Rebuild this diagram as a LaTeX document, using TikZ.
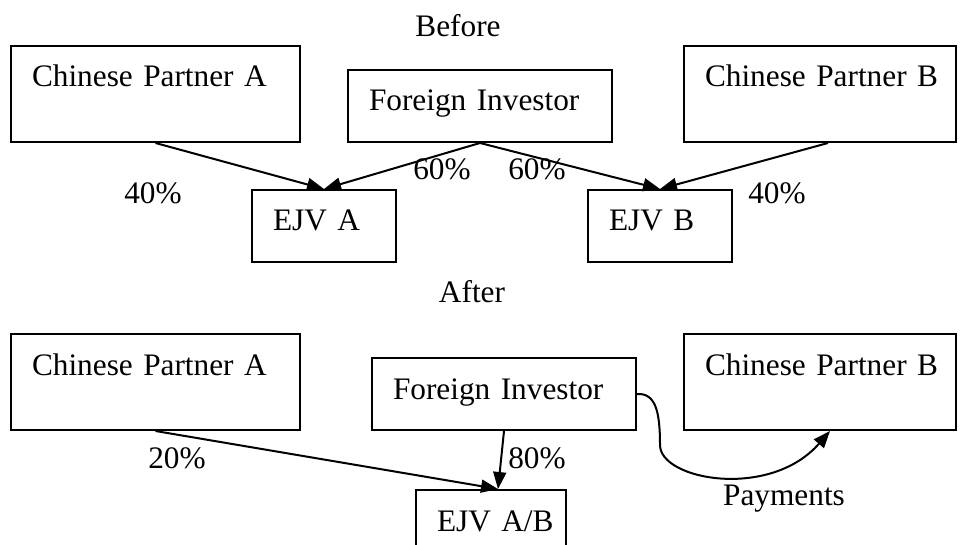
\documentclass[tikz,border=0pt]{standalone}
\usepackage{fontspec}
\setmainfont{Liberation Serif}
\usetikzlibrary{arrows.meta}

\begin{document}
\begin{tikzpicture}[x=1pt, y=-1pt,
    every node/.style={font=\fontsize{31.3}{37}\selectfont},
    party/.style={draw, line width=2pt, anchor=north west, inner xsep=21pt, inner ysep=0pt,
      align=left, text height=41pt, text depth=55pt, text width=247pt},
    inv/.style={party, text depth=31pt, text width=222pt},
    ejv/.style={party, text depth=31pt, text width=102pt},
    arr/.style={-{Triangle[length=17pt, width=13pt]}, line width=2pt}]
    \useasboundingbox (0,0) rectangle (960,545);
    % before
    \node[anchor=base] (before) at (458,37) {Before};
    \node[party] (cpaT) at (10,45) {Chinese Partner A};
    \node[inv] (fiT) at (347,69) {Foreign Investor};
    \node[party, text width=230pt] (cpbT) at (683,45) {\mbox{Chinese Partner B}};
    \node[ejv] (ejvA) at (251,189) {EJV A};
    \node[ejv] (ejvB) at (587,189) {EJV B};
    \draw[arr] (cpaT.south) -- (ejvA.north);
    \draw[arr] (fiT.south) -- (ejvA.north);
    \draw[arr] (fiT.south) -- (ejvB.north);
    \draw[arr] ([xshift=8pt]cpbT.south) -- (ejvB.north);
    \node[anchor=base] (pctA) at (153,204) {40\%};
    \node[anchor=base] (pctFA) at (442,180) {60\%};
    \node[anchor=base] (pctFB) at (537,180) {60\%};
    \node[anchor=base] (pctB) at (777,204) {40\%};
    % after
    \node[anchor=base] (after) at (472,302) {After};
    \node[party] (cpaB) at (10,333) {Chinese Partner A};
    \node[inv] (fiB) at (371,357) {Foreign Investor};
    \node[party, text width=230pt] (cpbB) at (683,333) {\mbox{Chinese Partner B}};
    \node[ejv, text width=108pt] (ejvAB) at (415,489) {\mbox{EJV A/B}};
    \coordinate (tipAB) at ([xshift=7pt]ejvAB.north);
    \coordinate (tipPay) at ([xshift=10pt]cpbB.south);
    \draw[arr] (cpaB.south) -- (tipAB);
    \draw[arr] (fiB.south) -- (tipAB);
    \draw[arr] (fiB.east) .. controls (655,393) and (660,410) .. (660,445)
      .. controls (660,480) and (770,500) .. (tipPay);
    \node[anchor=base] (pctAB) at (177,468) {20\%};
    \node[anchor=base] (pctF) at (537,468) {80\%};
    \node[anchor=base] (pay) at (784,505) {Payments};
\end{tikzpicture}
\end{document}
